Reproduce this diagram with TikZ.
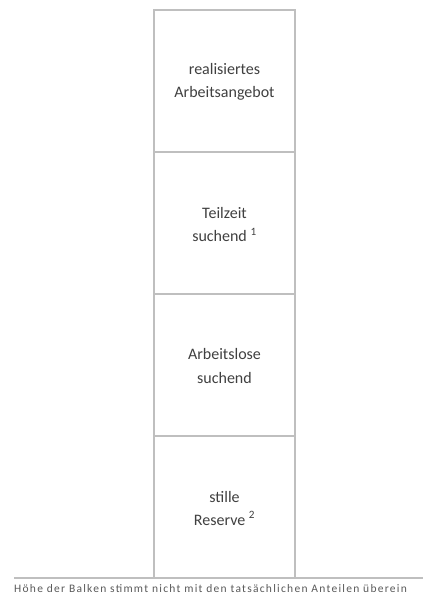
\documentclass[tikz,border=0pt]{standalone}
\usepackage{fontspec}
\setmainfont{Carlito}
\newfontfamily\capfont[LetterSpace=11]{Carlito}
\definecolor{boxline}{HTML}{BFBFBF}
\definecolor{boxtext}{HTML}{404040}
\definecolor{captext}{HTML}{595959}
\begin{document}
\begin{tikzpicture}[x=1pt,y=-1pt,
  bar/.style={draw=boxline,line width=1.2pt,fill=white},
  lbl/.style={text=boxtext,font=\fontsize{16}{23}\selectfont,align=center},
  captxt/.style={text=captext,font=\capfont\fontsize{11.5}{12}\selectfont,anchor=west,inner sep=0pt}]
\useasboundingbox (0,0) rectangle (423,596);
\draw[bar] (154,10) rectangle (295,152) coordinate (b1);
\draw[bar] (154,152) rectangle (295,294) coordinate (b2);
\draw[bar] (154,294) rectangle (295,436) coordinate (b3);
\draw[bar] (154,436) rectangle (295,578) coordinate (b4);
\node[lbl] (t1) at (224.5,82) {realisiertes\\Arbeitsangebot};
\node[lbl] (t2) at (224.5,225) {Teilzeit\\suchend \textsuperscript{1}};
\node[lbl] (t3) at (224.5,366) {Arbeitslose\\suchend};
\node[lbl] (t4) at (224.5,508) {stille\\Reserve \textsuperscript{2}};
\coordinate (bl) at (14,578);
\coordinate (br) at (423,578);
\draw[draw=boxline,line width=1.2pt] (bl) -- (br);
\node[captxt] (c) at (14,589) {Höhe der Balken stimmt nicht mit den tatsächlichen Anteilen überein};
\end{tikzpicture}
\end{document}
